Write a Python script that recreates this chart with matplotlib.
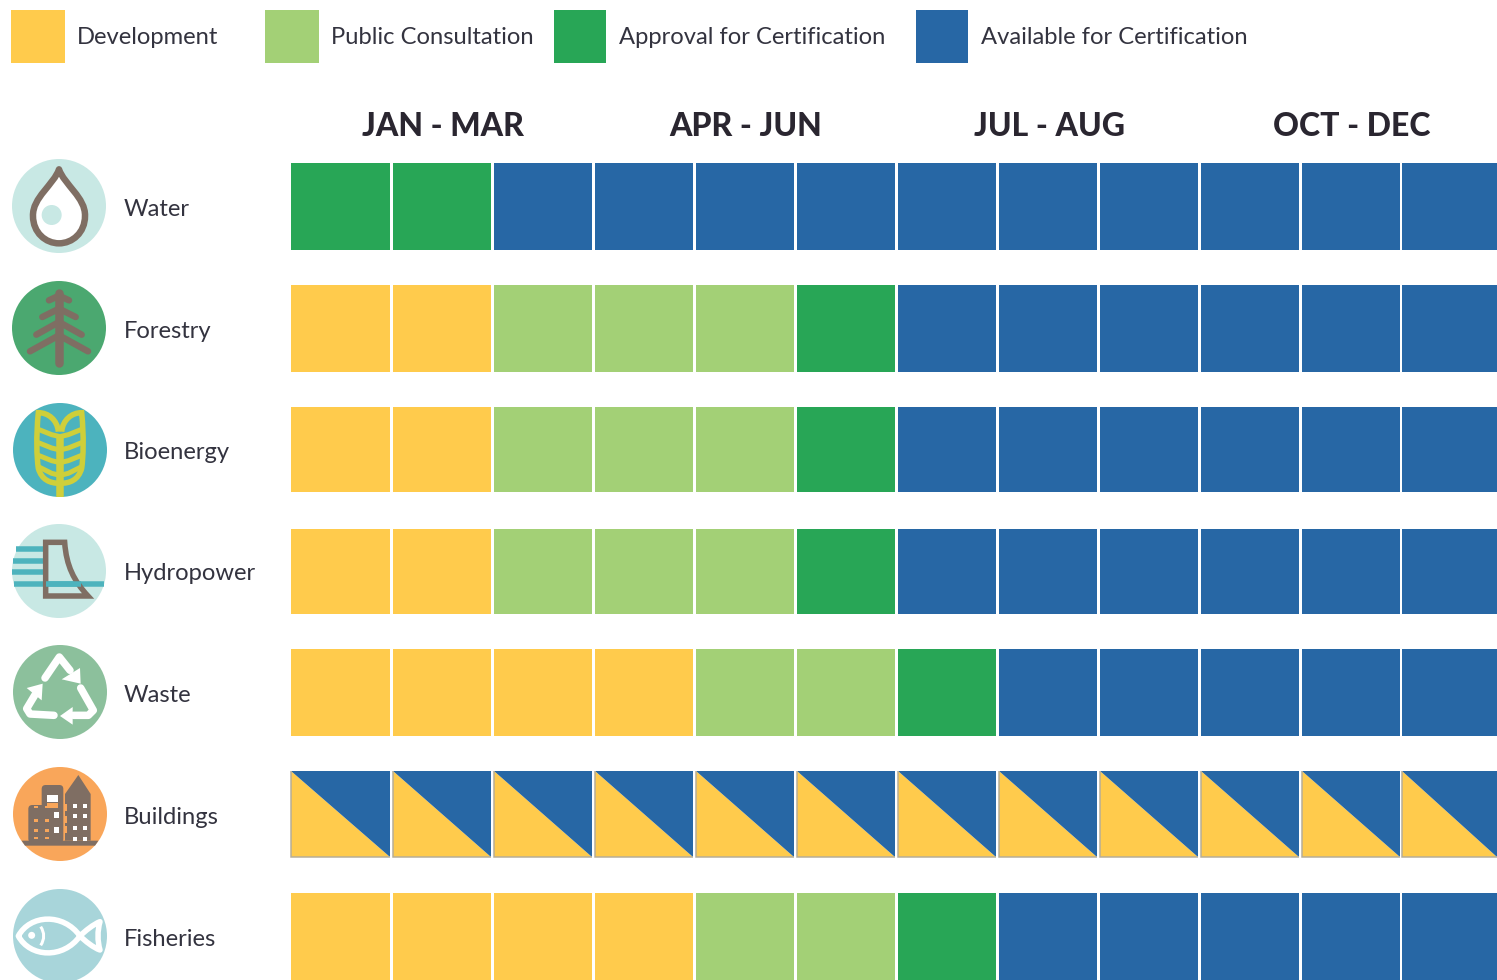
import matplotlib
matplotlib.use("Agg")
import matplotlib.pyplot as plt
from matplotlib.patches import Rectangle, Circle, Polygon, PathPatch, FancyBboxPatch
from matplotlib.path import Path

# ---------- data ----------
sectors = ["Water", "Forestry", "Bioenergy", "Hydropower", "Waste", "Buildings", "Fisheries"]
quarters = ["JAN - MAR", "APR - JUN", "JUL - AUG", "OCT - DEC"]
legend_labels = ["Development", "Public Consultation", "Approval for Certification", "Available for Certification"]
water = ["A", "A"] + ["C"] * 10
forestry = ["D", "D", "P", "P", "P", "A"] + ["C"] * 6
bioenergy = ["D", "D", "P", "P", "P", "A"] + ["C"] * 6
hydropower = ["D", "D", "P", "P", "P", "A"] + ["C"] * 6
waste = ["D", "D", "D", "D", "P", "P", "A"] + ["C"] * 5
buildings = ["DC"] * 12
fisheries = ["D", "D", "D", "D", "P", "P", "A"] + ["C"] * 5
status_rows = [water, forestry, bioenergy, hydropower, waste, buildings, fisheries]

# ---------- style and layout (pixels) ----------
colors = {"D": "#FFCB4C", "P": "#A3D076", "A": "#28A656", "C": "#2767A5"}
legend_keys = ["D", "P", "A", "C"]
FONT = ["Lato", "DejaVu Sans"]
TXT = "#33333F"
BROWN = "#7F6E63"
col_left = [291, 393, 494, 595, 696, 797, 898, 999, 1100, 1201, 1302, 1402]
col_right = [390, 491, 592, 693, 794, 895, 996, 1097, 1198, 1299, 1400, 1497]
row_top = [163, 285, 407, 529, 649, 771, 893]
row_bot = [250, 372, 492, 614, 736, 857, 980]
icon_cx = [59, 59, 60, 59, 60, 60, 60]
icon_cy = [206, 328, 450, 571, 692, 814, 936]
icon_bg = ["#C8E8E4", "#4BA870", "#4CB3BE", "#C8E8E4", "#8CC09C", "#F9A65A", "#A8D5DA"]
label_y = [209, 331, 452, 573, 695, 817, 939]
legend_x0 = [11, 265, 554, 916]
legend_x1 = [65, 319, 606, 968]
legend_tx = [77, 331, 619, 981]
header_x = [443, 746, 1049, 1352]

fig = plt.figure(figsize=(14.97, 9.80), dpi=100)
ax = fig.add_axes([0, 0, 1, 1])
ax.set_xlim(0, 1497)
ax.set_ylim(980, 0)
ax.axis("off")
PX = 72 / 100  # one pixel in points


def line(pts, color, w, cap="round", z=4, join="round"):
    ax.plot([p[0] for p in pts], [p[1] for p in pts], color=color, lw=w * PX,
            solid_capstyle=cap, solid_joinstyle=join, zorder=z)


def rel(c, pts, k=1 / 3):
    """Icon-local points given in 3x units around the icon centre."""
    return [(c[0] + x * k, c[1] + y * k) for x, y in pts]


def curve(c, verts, codes, **kw):
    ax.add_patch(PathPatch(Path(rel(c, verts), codes), **kw))


M, L, C4, Z = Path.MOVETO, Path.LINETO, Path.CURVE4, Path.CLOSEPOLY


def icon_water(c):
    v = [(0, -110), (-15, -65), (-80, -25), (-78, 30), (-78, 80), (-40, 112), (0, 112),
         (40, 112), (78, 80), (78, 30), (80, -25), (15, -65), (0, -110), (0, -110)]
    curve(c, v, [M] + [C4] * 12 + [Z], fc="white", ec=BROWN, lw=6.5 * PX, zorder=4, joinstyle="round")
    ax.add_patch(Circle(rel(c, [(-22, 27)])[0], 10, fc="#C8E8E4", ec="none", zorder=5))


def icon_forest(c):
    line(rel(c, [(0, -105), (0, 105)]), BROWN, 8.5)
    for xe, ye, y0 in [(-30, -83, -97), (-50, -33, -58), (-68, 20, -18), (-87, 70, 22)]:
        line(rel(c, [(xe, ye), (0, y0)]), BROWN, 6.5)
        line(rel(c, [(-xe, ye), (0, y0)]), BROWN, 6.5)


def icon_wheat(c):
    col = "#CFCF3A"
    line(rel(c, [(0, -40), (0, 142)]), col, 7.5, cap="butt")
    for s in (-1, 1):
        v = [(s * 5, -55), (s * 8, -90), (s * 35, -112), (s * 65, -112),
             (s * 72, -40), (s * 70, 20), (s * 65, 55), (s * 55, 90), (s * 30, 100), (0, 100)]
        curve(c, v, [M] + [C4] * 9, fc="none", ec=col, lw=5.5 * PX, zorder=4)
        for y0, y1 in [(-40, -62), (0, -22), (38, 16), (76, 50)]:
            line(rel(c, [(0, y0), (s * 25, y0 - 6), (s * 65, y1)]), col, 5)


def icon_hydro(c):
    teal = "#4DB3BD"
    for y, xl, xr in [(-65, -128, -43), (-31, -138, -43), (4, -140, -43), (40, -136, 135)]:
        line(rel(c, [(xl, y), (xr, y)]), teal, 5.5, cap="butt")
    v = [(-40, -86), (17, -86), (22, -15), (45, 30), (87, 75), (-40, 75), (-40, -86), (-40, -86)]
    codes = [M, L, C4, C4, C4, L, L, Z]
    curve(c, v, codes, fc="none", ec=BROWN, lw=5.5 * PX, zorder=5, joinstyle="miter")
    line(rel(c, [(-40, 40), (65, 40)]), teal, 5.5, cap="butt", z=6)


def icon_waste(c):
    for pts in ([(-45, -42), (-2, -105), (30, -65)],
                [(62, -12), (100, 55), (85, 70), (40, 70)],
                [(-18, 70), (-90, 66), (-100, 50), (-70, 0)]):
        line(rel(c, pts), "white", 7.5)
    for tri in ([(5, -38), (62, -25), (60, -72)],
                [(0, 72), (38, 98), (38, 45)],
                [(-52, -25), (-100, -12), (-55, 25)]):
        ax.add_patch(Polygon(rel(c, tri), closed=True, fc="white", ec="none", zorder=4))


def icon_buildings(c):
    ax.add_patch(Polygon(rel(c, [(-115, 80), (115, 80), (105, 95), (-105, 95)]), fc=BROWN, ec="none", zorder=4))
    for bx, by, bw, bh in [(-95, -27, 80, 107), (-55, -87, 65, 167)]:
        (x0, y0) = rel(c, [(bx, by)])[0]
        ax.add_patch(FancyBboxPatch((x0 + 2, y0 + 2), bw / 3 - 4, bh / 3 - 2, boxstyle="round,pad=2,rounding_size=4",
                                    fc=BROWN, ec="none", zorder=4))
    ax.add_patch(Polygon(rel(c, [(15, 80), (15, -60), (55, -117), (92, -60), (92, 80)]), fc=BROWN, ec="none", zorder=4))
    ax.add_patch(Rectangle(rel(c, [(-38, -57)])[0], 11, 7, fc="white", ec="none", zorder=5))
    ax.add_patch(Rectangle(rel(c, [(-38, -33)])[0], 11, 5, fc="#F9A65A", ec="none", zorder=5))
    for y in (-5, 40):
        ax.add_patch(Rectangle(rel(c, [(-17, y)])[0], 5, 6, fc="white", ec="none", zorder=5))
    for y in (-25, 15, 45, 68):
        for x in (-78, -45):
            ax.add_patch(Rectangle(rel(c, [(x, y)])[0], 4, 2.5, fc="#F9A65A", ec="none", zorder=5))
    for y in (-30, 0, 35, 70):
        for x in (40, 70):
            ax.add_patch(Rectangle(rel(c, [(x, y)])[0], 4, 4, fc="white", ec="none", zorder=5))
    for y in (-30, 5, 35):
        ax.add_patch(Rectangle(rel(c, [(14, y)])[0], 2.5, 7, fc="#F9A65A", ec="none", zorder=5))


def icon_fish(c):
    v = [(-125, 0), (-90, -65), (10, -70), (60, 0), (75, -15), (100, -35), (120, -43),
         (112, -15), (112, 15), (120, 42), (100, 35), (75, 15), (60, 0), (10, 70), (-90, 65), (-125, 0), (-125, 0)]
    curve(c, v, [M] + [C4] * 15 + [Z], fc="none", ec="white", lw=5.5 * PX, zorder=4, joinstyle="round")
    ax.add_patch(Circle(rel(c, [(-85, -2)])[0], 3.5, fc="white", ec="none", zorder=5))
    curve(c, [(-58, -28), (-46, -10), (-46, 10), (-58, 28)], [M, C4, C4, C4], fc="none", ec="white", lw=3 * PX, zorder=4)


icon_fns = [icon_water, icon_forest, icon_wheat, icon_hydro, icon_waste, icon_buildings, icon_fish]

# legend
for key, lab, x0, x1, tx in zip(legend_keys, legend_labels, legend_x0, legend_x1, legend_tx):
    ax.add_patch(Rectangle((x0, 10), x1 - x0, 53, fc=colors[key], ec="none"))
    ax.text(tx, 37, lab, family=FONT, fontsize=17.1, color=TXT, va="center", ha="left")

# headers
for q, x in zip(quarters, header_x):
    ax.text(x, 126, q, family=FONT, fontsize=23, fontweight=900, color="#2A2630", va="center", ha="center")

# rows
for r, name in enumerate(sectors):
    c = (icon_cx[r], icon_cy[r])
    ax.add_patch(Circle(c, 47, fc=icon_bg[r], ec="none", zorder=2))
    icon_fns[r](c)
    ax.text(124, label_y[r], name, family=FONT, fontsize=17.1, color=TXT, va="center", ha="left")
    t, b = row_top[r], row_bot[r]
    for i, st in enumerate(status_rows[r]):
        l, rr = col_left[i], col_right[i]
        if len(st) == 1:
            ax.add_patch(Rectangle((l, t), rr - l, b - t, fc=colors[st], ec="none"))
        else:
            ax.add_patch(Polygon([(l, t), (l, b), (rr, b)], fc=colors[st[0]], ec="none"))
            ax.add_patch(Polygon([(l, t), (rr, t), (rr, b)], fc=colors[st[1]], ec="none"))
            line([(l, t), (l, b), (rr, b)], "#B5AD98", 1.5, cap="butt", join="miter")

fig.savefig("out.png", dpi=100)
